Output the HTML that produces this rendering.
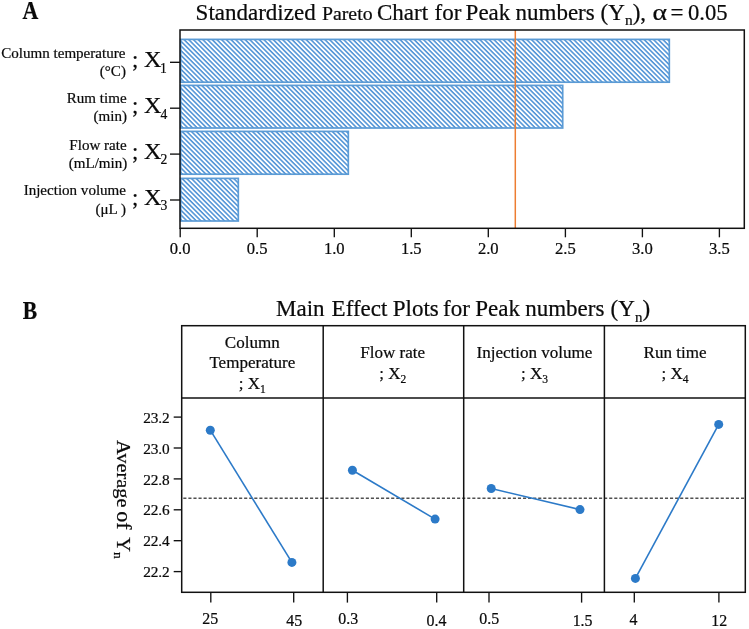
<!DOCTYPE html>
<html lang="en">
<head>
<meta charset="utf-8">
<title>Pareto chart and main effect plots</title>
<style>
html,body{margin:0;padding:0;background:#fff;}
body{width:749px;height:629px;overflow:hidden;position:relative;}
svg{position:absolute;left:0;top:0;display:block;will-change:transform;}
text{font-family:"Liberation Serif",serif;fill:#0a0a0a;stroke:#0a0a0a;stroke-width:0.22px;}
.ax{stroke:#111;stroke-width:1.5;fill:none;}
.tk{stroke:#111;stroke-width:1.35;fill:none;}
</style>
</head>
<body>
<svg width="749" height="629" viewBox="0 0 749 629">
<defs>
<pattern id="hatch" patternUnits="userSpaceOnUse" width="3.32" height="3.32" patternTransform="rotate(45)">
<rect x="0" y="0" width="3.32" height="3.32" fill="#fff"/>
<rect x="0" y="0" width="3.4" height="1.55" fill="#5093d6"/>
</pattern>
</defs>

<!-- ================= PANEL A ================= -->
<text transform="translate(22.5,19.1) scale(0.95,1.08)" font-size="23" font-weight="bold" fill="#000" stroke="#000" stroke-width="0.3">A</text>
<g font-size="23">
<text x="195.6" y="19.7">Standardized</text>
<text x="322" y="19.7" font-size="19.8">Pareto</text>
<text x="377" y="19.7">Chart</text>
<text x="434.5" y="19.7">for</text>
<text x="465.6" y="19.7">Peak</text>
<text x="515.5" y="19.7">numbers</text>
<text x="600.6" y="19.7">(Y<tspan font-size="15.5" dy="5">n</tspan><tspan dy="-5">),</tspan></text>
<text x="652.5" y="19.7" textLength="14.5" lengthAdjust="spacingAndGlyphs">α</text>
<text x="670.5" y="19.7">=</text>
<text x="688" y="19.7" font-size="22.6">0.05</text>
</g>

<!-- bars -->
<g fill="url(#hatch)" stroke="#5b9bd5" stroke-width="1.7">
<rect x="180.7" y="39.4" width="488.6" height="42.8"/>
<rect x="180.7" y="85.4" width="382" height="42.6"/>
<rect x="180.7" y="131.4" width="167.6" height="42.8"/>
<rect x="180.7" y="178.4" width="57.6" height="42.6"/>
</g>
<!-- reference line -->
<line x1="515.3" y1="30" x2="515.3" y2="228" stroke="#ed7d31" stroke-width="1.5"/>
<!-- frame -->
<rect class="ax" x="180" y="30" width="564.3" height="198.3"/>
<!-- y ticks -->
<g class="tk">
<line x1="170" y1="62.3" x2="180" y2="62.3"/>
<line x1="170" y1="108.2" x2="180" y2="108.2"/>
<line x1="170" y1="154.1" x2="180" y2="154.1"/>
<line x1="170" y1="200" x2="180" y2="200"/>
</g>
<!-- x ticks -->
<g class="tk">
<line x1="180.2" y1="228.3" x2="180.2" y2="237.3"/>
<line x1="257.2" y1="228.3" x2="257.2" y2="237.3"/>
<line x1="334.3" y1="228.3" x2="334.3" y2="237.3"/>
<line x1="411.3" y1="228.3" x2="411.3" y2="237.3"/>
<line x1="488.3" y1="228.3" x2="488.3" y2="237.3"/>
<line x1="565.4" y1="228.3" x2="565.4" y2="237.3"/>
<line x1="642.4" y1="228.3" x2="642.4" y2="237.3"/>
<line x1="719.4" y1="228.3" x2="719.4" y2="237.3"/>
</g>
<g font-size="16.6" text-anchor="middle">
<text x="180.2" y="253.7">0.0</text>
<text x="257.2" y="253.7">0.5</text>
<text x="334.3" y="253.7">1.0</text>
<text x="411.3" y="253.7">1.5</text>
<text x="488.3" y="253.7">2.0</text>
<text x="565.4" y="253.7">2.5</text>
<text x="642.4" y="253.7">3.0</text>
<text x="719.4" y="253.7">3.5</text>
</g>
<!-- y labels -->
<g font-size="15.05" text-anchor="end">
<text x="125.4" y="57.7">Column temperature</text>
<text x="125.9" y="75.7">(°C)</text>
<text x="126.6" y="102.5">Rum time</text>
<text x="127" y="120.5">(min)</text>
<text x="126.6" y="149.5">Flow rate</text>
<text x="127.3" y="168.2">(mL/min)</text>
<text x="126" y="195.4">Injection volume</text>
<text x="125.9" y="213.9">(μL )</text>
</g>
<g font-size="22.8">
<text x="132" y="67">;</text><text transform="translate(144.1,67) scale(1.06,1)">X</text><text x="159.9" y="72.6" font-size="13.6">1</text>
<text x="132" y="113">;</text><text transform="translate(144.1,113) scale(1.06,1)">X</text><text x="160.5" y="118.6" font-size="13.6">4</text>
<text x="132" y="158.5">;</text><text transform="translate(144.1,158.5) scale(1.06,1)">X</text><text x="160.5" y="164.1" font-size="13.6">2</text>
<text x="132" y="204.5">;</text><text transform="translate(144.1,204.5) scale(1.06,1)">X</text><text x="160.5" y="210.1" font-size="13.6">3</text>
</g>

<!-- ================= PANEL B ================= -->
<text transform="translate(22.8,319.1) scale(0.94,1.12)" font-size="23" font-weight="bold" fill="#000" stroke="#000" stroke-width="0.5">B</text>
<g font-size="23">
<text x="276" y="316.3">Main</text>
<text x="331.6" y="316.3">Effect</text>
<text x="392.8" y="316.3">Plots</text>
<text x="443" y="316.3">for</text>
<text x="475.3" y="316.3">Peak</text>
<text x="525.2" y="316.3">numbers</text>
<text x="610.6" y="316.3">(Y<tspan font-size="15" dy="6">n</tspan><tspan dy="-6">)</tspan></text>
</g>

<!-- mean line -->
<line x1="183.3" y1="498.3" x2="745" y2="498.3" stroke="#505050" stroke-width="1.4" stroke-dasharray="3.1 1.97"/>

<!-- data -->
<g stroke="#2c7ac8" stroke-width="1.6" fill="#2c7ac8">
<line x1="210.3" y1="430.2" x2="291.9" y2="562.4"/>
<line x1="352.4" y1="470.3" x2="435.1" y2="519.1"/>
<line x1="491.2" y1="488.5" x2="580" y2="509.6"/>
<line x1="635.4" y1="578.4" x2="718.7" y2="424.4"/>
</g>
<g fill="#2c7ac8">
<circle cx="210.3" cy="430.2" r="4.5"/><circle cx="291.9" cy="562.4" r="4.5"/>
<circle cx="352.4" cy="470.3" r="4.5"/><circle cx="435.1" cy="519.1" r="4.5"/>
<circle cx="491.2" cy="488.5" r="4.5"/><circle cx="580" cy="509.6" r="4.5"/>
<circle cx="635.4" cy="578.4" r="4.5"/><circle cx="718.7" cy="424.4" r="4.5"/>
</g>

<!-- frame -->
<rect class="ax" x="181.7" y="325.7" width="563.6" height="266.6"/>
<line class="ax" x1="181.7" y1="398.1" x2="745.3" y2="398.1"/>
<line class="ax" x1="323.2" y1="325.7" x2="323.2" y2="592.3"/>
<line class="ax" x1="463.7" y1="325.7" x2="463.7" y2="592.3"/>
<line class="ax" x1="604.4" y1="325.7" x2="604.4" y2="592.3"/>

<!-- header text -->
<g font-size="17.05" text-anchor="middle">
<text x="252.3" y="348.1">Column</text>
<text x="252.3" y="368.2">Temperature</text>
<text x="252.3" y="389.3">; X<tspan font-size="11.5" dy="3.5">1</tspan></text>
<text x="392.7" y="357.6">Flow rate</text>
<text x="392.7" y="379.2">; X<tspan font-size="11.5" dy="3.5">2</tspan></text>
<text x="534.5" y="357.6">Injection volume</text>
<text x="534.5" y="379.2">; X<tspan font-size="11.5" dy="3.5">3</tspan></text>
<text x="675" y="357.6">Run time</text>
<text x="675" y="379.2">; X<tspan font-size="11.5" dy="3.5">4</tspan></text>
</g>

<!-- y ticks -->
<g class="tk">
<line x1="173.7" y1="417.1" x2="181.7" y2="417.1"/>
<line x1="173.7" y1="448" x2="181.7" y2="448"/>
<line x1="173.7" y1="478.9" x2="181.7" y2="478.9"/>
<line x1="173.7" y1="509.8" x2="181.7" y2="509.8"/>
<line x1="173.7" y1="540.7" x2="181.7" y2="540.7"/>
<line x1="173.7" y1="571.6" x2="181.7" y2="571.6"/>
</g>
<g font-size="15.3" text-anchor="end" letter-spacing="-0.15">
<text x="169.5" y="422.7">23.2</text>
<text x="169.5" y="453.6">23.0</text>
<text x="169.5" y="484.5">22.8</text>
<text x="169.5" y="515.4">22.6</text>
<text x="169.5" y="546.3">22.4</text>
<text x="169.5" y="577.2">22.2</text>
</g>
<!-- x ticks -->
<g class="tk">
<line x1="210.8" y1="592.3" x2="210.8" y2="602.6"/>
<line x1="293.7" y1="592.3" x2="293.7" y2="602.6"/>
<line x1="347.4" y1="592.3" x2="347.4" y2="602.6"/>
<line x1="436.7" y1="592.3" x2="436.7" y2="602.6"/>
<line x1="489" y1="592.3" x2="489" y2="602.6"/>
<line x1="581.6" y1="592.3" x2="581.6" y2="602.6"/>
<line x1="634.3" y1="592.3" x2="634.3" y2="602.6"/>
<line x1="718.9" y1="592.3" x2="718.9" y2="602.6"/>
</g>
<g font-size="16.6" text-anchor="middle">
<text transform="translate(210.3,624.1) scale(0.96,1.07)">25</text>
<text transform="translate(294.2,625.7) scale(0.96,1.07)">45</text>
<text transform="translate(348.2,624.1) scale(0.96,1.07)">0.3</text>
<text transform="translate(436.5,625.7) scale(0.96,1.07)">0.4</text>
<text transform="translate(489.2,624.1) scale(0.96,1.07)">0.5</text>
<text transform="translate(582.6,625.5) scale(0.96,1.07)">1.5</text>
<text transform="translate(633.6,625) scale(0.96,1.07)">4</text>
<text transform="translate(719.3,625.5) scale(0.96,1.07)">12</text>
</g>
<!-- y axis title -->
<text font-size="20.4" transform="translate(116.7,440) rotate(90) scale(1,0.92)">Average<tspan dx="3.8" font-size="22">of</tspan><tspan dx="7.6">Y</tspan><tspan font-size="13.5" dx="0" dy="2.5">n</tspan></text>
</svg>
</body>
</html>
